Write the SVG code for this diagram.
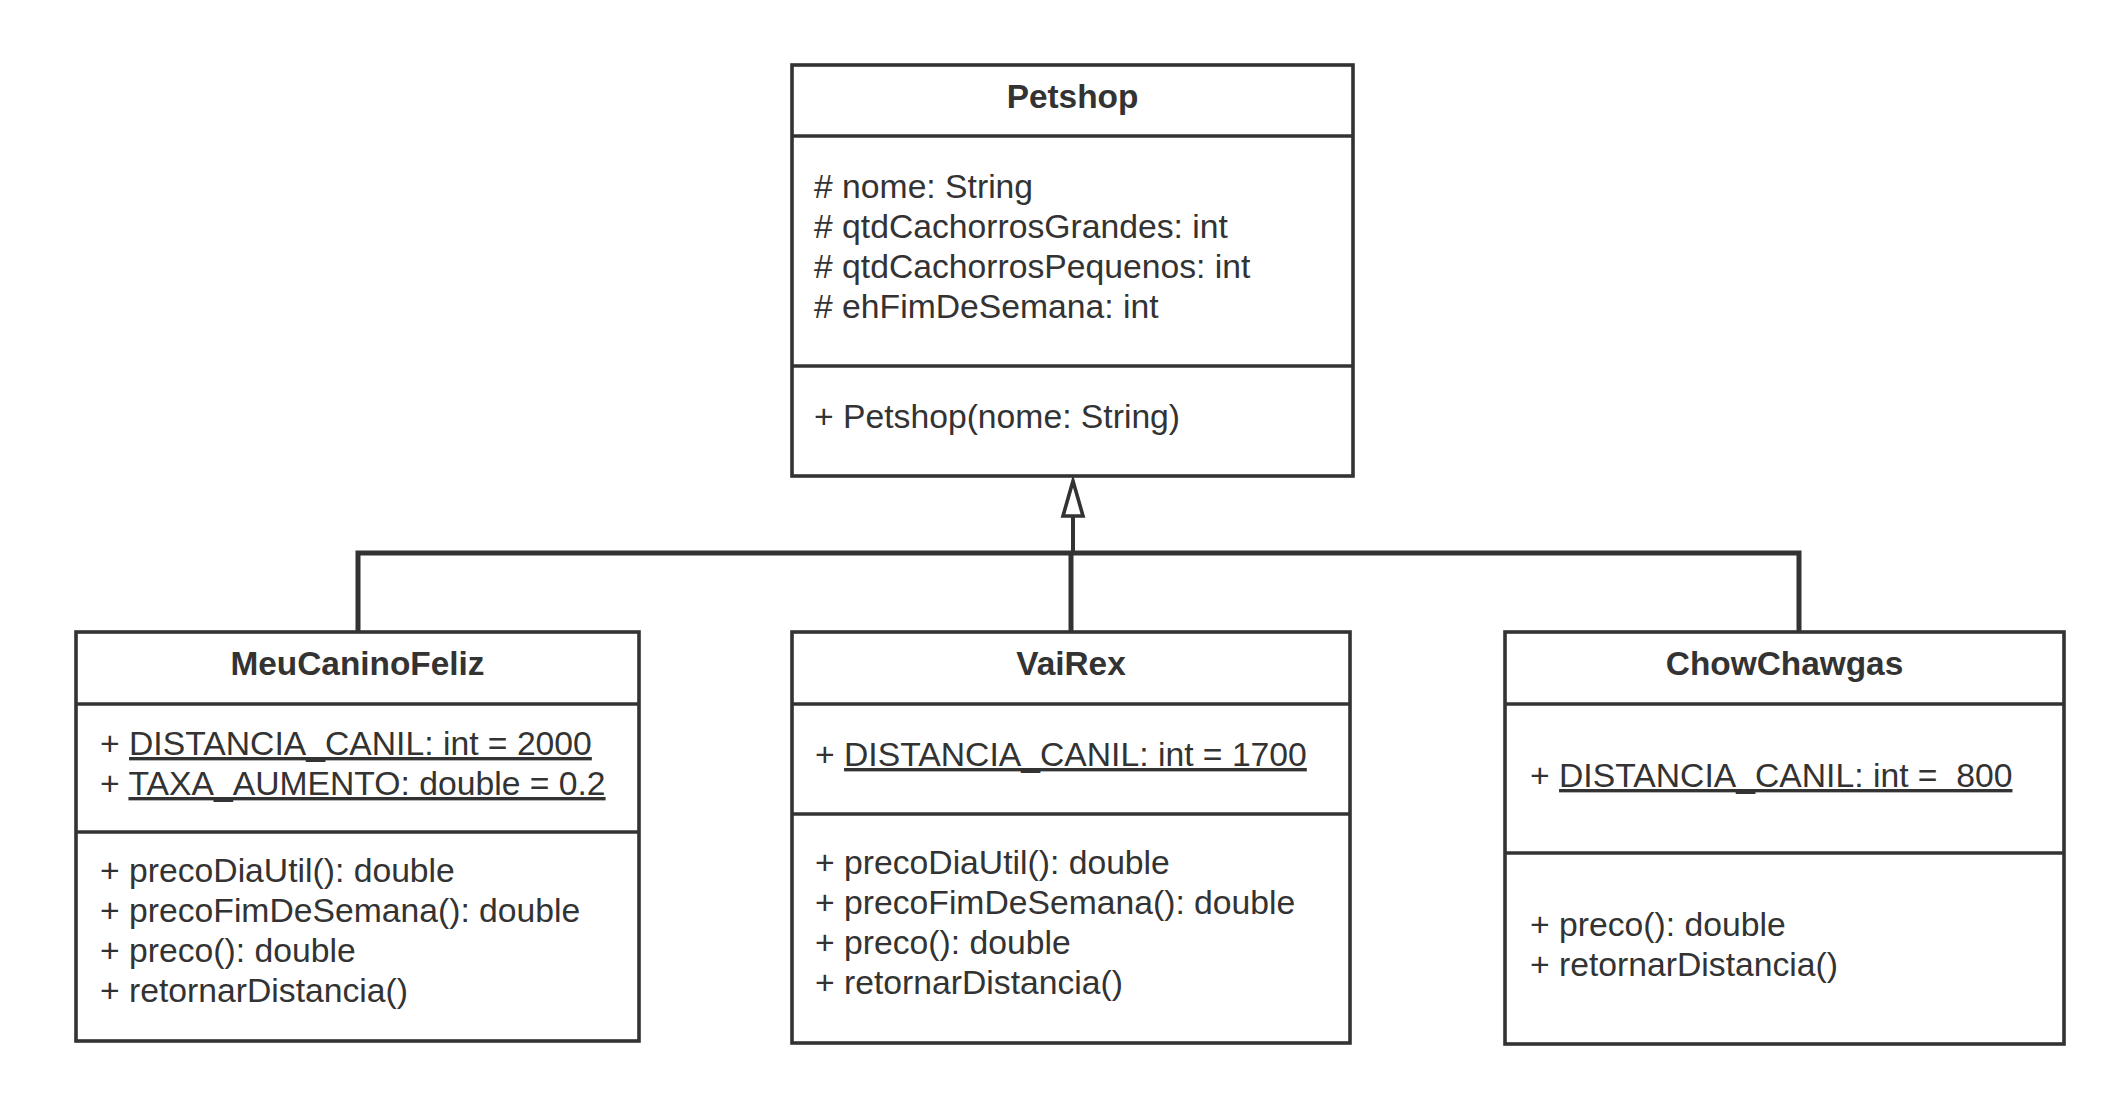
<svg xmlns="http://www.w3.org/2000/svg" width="2126" height="1097" viewBox="0 0 2126 1097">
<style>
.box{fill:#ffffff;stroke:#333333;stroke-width:3.6}
.div{stroke:#333333;stroke-width:3.6}
.t{font-family:"Liberation Sans",Arial,sans-serif;font-size:33.7px;fill:#333333}
.h{font-family:"Liberation Sans",Arial,sans-serif;font-size:33.4px;font-weight:bold;fill:#333333;text-anchor:middle}
.u{text-decoration:underline}
.con{fill:none;stroke:#333333;stroke-width:5}
</style>
<rect width="2126" height="1097" fill="#ffffff"/>
<g id="connectors">
<path class="con" d="M358 632 V553 H1073"/>
<path class="con" d="M1071 632 V553"/>
<path class="con" d="M1799 632 V553 H1073"/>
<path class="con" d="M1073 553 V516" style="stroke-width:4"/>
<polygon points="1073,481 1063,516 1083,516" fill="#ffffff" stroke="#333333" stroke-width="3.6"/>
</g>
<g id="Petshop">
<rect class="box" x="792" y="65" width="561" height="411"/>
<line class="div" x1="792" y1="136" x2="1353" y2="136"/>
<line class="div" x1="792" y1="366" x2="1353" y2="366"/>
<text class="h" x="1072.5" y="108">Petshop</text>
<text class="t" x="814" y="198"># nome: String</text>
<text class="t" x="814" y="238"># qtdCachorrosGrandes: int</text>
<text class="t" x="814" y="278"># qtdCachorrosPequenos: int</text>
<text class="t" x="814" y="318"># ehFimDeSemana: int</text>
<text class="t" x="814" y="428">+ Petshop(nome: String)</text>
</g>
<g id="MeuCaninoFeliz">
<rect class="box" x="76" y="632" width="563" height="409"/>
<line class="div" x1="76" y1="704" x2="639" y2="704"/>
<line class="div" x1="76" y1="832" x2="639" y2="832"/>
<text class="h" x="357.5" y="675">MeuCaninoFeliz</text>
<text class="t" x="100" y="755">+ <tspan class="u">DISTANCIA_CANIL: int = 2000</tspan></text>
<text class="t" x="100" y="795">+ <tspan class="u">TAXA_AUMENTO: double = 0.2</tspan></text>
<text class="t" x="100" y="882">+ precoDiaUtil(): double</text>
<text class="t" x="100" y="922">+ precoFimDeSemana(): double</text>
<text class="t" x="100" y="962">+ preco(): double</text>
<text class="t" x="100" y="1002">+ retornarDistancia()</text>
</g>
<g id="VaiRex">
<rect class="box" x="792" y="632" width="558" height="411"/>
<line class="div" x1="792" y1="704" x2="1350" y2="704"/>
<line class="div" x1="792" y1="814" x2="1350" y2="814"/>
<text class="h" x="1071" y="675">VaiRex</text>
<text class="t" x="815" y="766">+ <tspan class="u">DISTANCIA_CANIL: int = 1700</tspan></text>
<text class="t" x="815" y="874">+ precoDiaUtil(): double</text>
<text class="t" x="815" y="914">+ precoFimDeSemana(): double</text>
<text class="t" x="815" y="954">+ preco(): double</text>
<text class="t" x="815" y="994">+ retornarDistancia()</text>
</g>
<g id="ChowChawgas">
<rect class="box" x="1505" y="632" width="559" height="412"/>
<line class="div" x1="1505" y1="704" x2="2064" y2="704"/>
<line class="div" x1="1505" y1="853" x2="2064" y2="853"/>
<text class="h" x="1784.5" y="675">ChowChawgas</text>
<text class="t" x="1530" y="787" xml:space="preserve" style="white-space:pre">+ <tspan class="u">DISTANCIA_CANIL: int =  800</tspan></text>
<text class="t" x="1530" y="936">+ preco(): double</text>
<text class="t" x="1530" y="976">+ retornarDistancia()</text>
</g>
</svg>
